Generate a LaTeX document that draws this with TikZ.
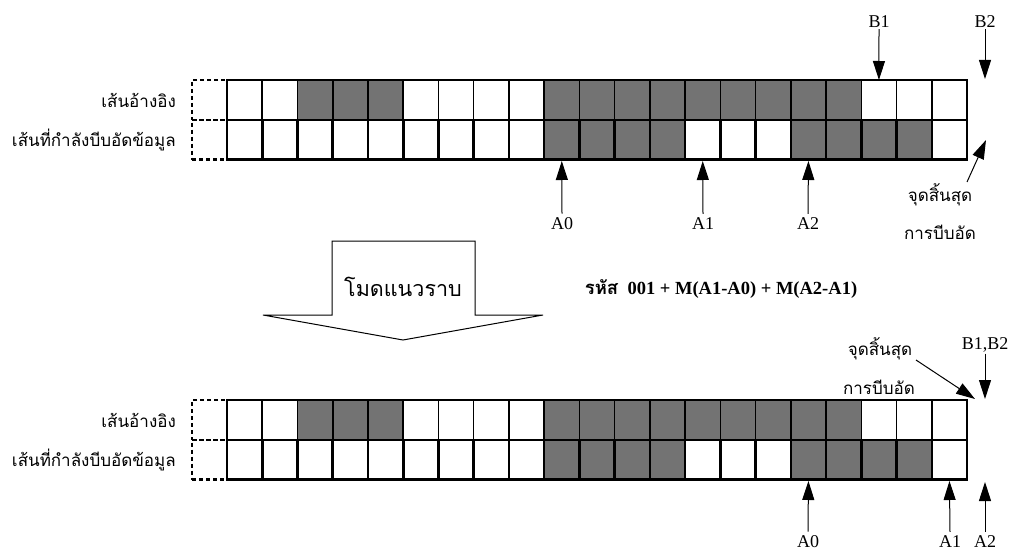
\documentclass[tikz,border=0pt]{standalone}
\usepackage{fontspec}
\setmainfont{Liberation Serif}
\newfontfamily\thai[Script=Thai]{Loma}
\usetikzlibrary{arrows.meta}
\begin{document}
\begin{tikzpicture}[x=1pt,y=-1pt,
  cellbase/.style={draw=black,minimum width=35.24pt,minimum height=40pt,inner sep=0pt,outer sep=0pt},
  topline/.style={cellbase,line width=1.6pt},
  botline/.style={cellbase,line width=2.6pt,minimum height=39.5pt},
  cellw/.style={fill=white},
  cellg/.style={fill=black!55},
  dashcell/.style={draw=black,dash pattern=on 4pt off 3pt,minimum width=35pt,minimum height=40pt,inner sep=0pt},
  ptr/.style={line width=1pt,-{Triangle[length=19pt,width=12pt]}},
  lat/.style={font=\fontsize{18}{21}\selectfont,inner sep=1pt},
  thl/.style={font=\thai\fontsize{17}{20}\selectfont,inner sep=1pt},
  rowlbl/.style={thl,anchor=east}]
\useasboundingbox (0,0) rectangle (1010,551);

% ---------- grids ----------
\foreach \g/\yy in {1/100,2/420}{
  \node[dashcell,line width=1.4pt] (d\g a) at (209.5,\yy) {};
  \node[dashcell,line width=2.2pt,minimum height=39.5pt] (d\g b) at (209.5,\yy+39.75) {};
  \foreach \i/\a/\b in {1/w/w,2/w/w,3/g/w,4/g/w,5/g/w,6/w/w,7/w/w,8/w/w,9/w/w,
      10/g/g,11/g/g,12/g/g,13/g/g,14/g/w,15/g/w,16/g/w,17/g/g,18/g/g,19/w/g,20/w/g,21/w/w}{
    \node[topline,cell\a] (g\g a\i) at ({227+(\i-0.5)*35.24},\yy) {};
  }
  \foreach \i/\a/\b in {1/w/w,2/w/w,3/g/w,4/g/w,5/g/w,6/w/w,7/w/w,8/w/w,9/w/w,
      10/g/g,11/g/g,12/g/g,13/g/g,14/g/w,15/g/w,16/g/w,17/g/g,18/g/g,19/w/g,20/w/g,21/w/w}{
    \node[botline,cell\b] (g\g b\i) at ({227+(\i-0.5)*35.24},\yy+39.75) {};
  }
  \node[rowlbl] (ref\g) at (177,\yy) {เส้นอ้างอิง};
  \node[rowlbl] (cur\g) at (177,\yy+40) {เส้นที่กำลังบีบอัดข้อมูล};
}

% ---------- top pointers ----------
\node[lat] (tB1) at (879,22) {B1};
\node[lat] (tB2) at (985,22) {B2};
\coordinate (tB2e) at (985,79);
\draw[ptr] (tB1.south) -- (g1a19.north);
\draw[ptr] (tB2.south) -- (tB2e);

\node[lat] (tA0) at (562,224) {A0};
\node[lat] (tA1) at (703,224) {A1};
\node[lat] (tA2) at (808,224) {A2};
\draw[ptr,shorten >=1.5pt] (tA0.north) ++(0,-3) -- (g1b10.south);
\draw[ptr,shorten >=1.5pt] (tA1.north) ++(0,-3) -- (g1b14.south);
\draw[ptr,shorten >=1.5pt] (tA2.north) ++(0,-3) -- (g1b17.south);

\node[thl] (tE1) at (940,195) {จุดสิ้นสุด};
\node[thl] (tE2) at (940,232) {การบีบอัด};
\coordinate (tEs) at (967,182);
\coordinate (tEe) at (986,140);
\draw[ptr] (tEs) -- (tEe);

% ---------- mode block arrow ----------
\draw[line width=1pt,fill=white] (332,241) -- (475,241) -- (475,315) -- (543,315)
   -- (403,340) -- (263,315) -- (332,315) -- cycle;
\node[thl,font=\thai\fontsize{21.5}{24}\selectfont] (mode) at (403,287) {โมดแนวราบ};
\node[font=\fontsize{18.5}{21}\selectfont\bfseries,inner sep=1pt] (code) at (721,289)
   {{\thai รหัส}\ \ 001 + M(A1-A0) + M(A2-A1)};

% ---------- bottom pointers ----------
\node[thl] (bE1) at (880,349) {จุดสิ้นสุด};
\node[thl] (bE2) at (879,387) {การบีบอัด};
\coordinate (bEs) at (916,360);
\coordinate (bEe) at (975,399);
\draw[ptr] (bEs) -- (bEe);
\node[lat] (bB) at (985,345) {B1,B2};
\coordinate (bBe) at (985,399);
\draw[ptr] (bB.south) -- (bBe);

\node[lat] (bA0) at (808,542) {A0};
\node[lat] (bA1) at (950,542) {A1};
\node[lat] (bA2) at (985,542) {A2};
\coordinate (bA2e) at (985,482);
\draw[ptr,shorten >=1.5pt] (bA0.north) ++(0,-3) -- (g2b17.south);
\draw[ptr,shorten >=1.5pt] (bA1.north) ++(0,-3) -- (g2b21.south);
\draw[ptr] (bA2.north) ++(0,-3) -- (bA2e);
\end{tikzpicture}
\end{document}
